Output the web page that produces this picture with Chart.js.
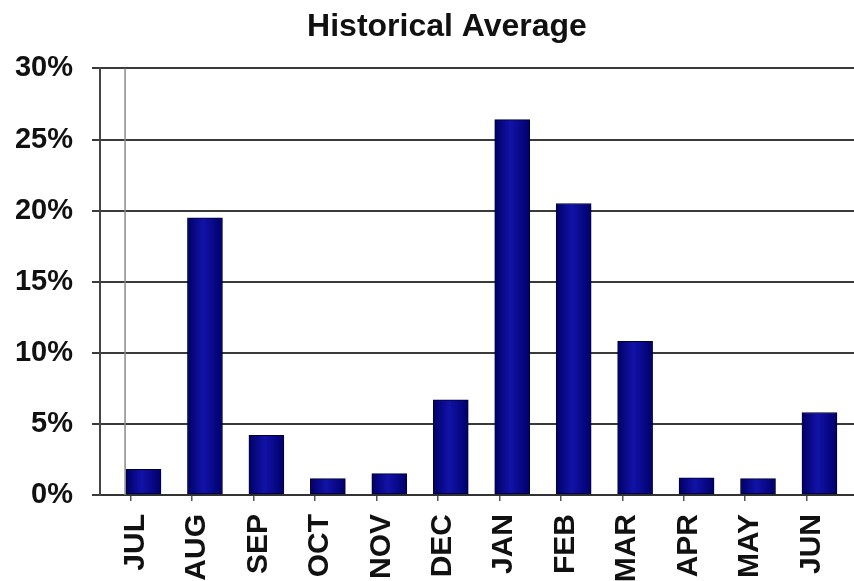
<!DOCTYPE html>
<html>
<head>
<meta charset="utf-8">
<script src="https://cdn.jsdelivr.net/npm/chart.js@4"></script>
<style>
  html, body { margin: 0; padding: 0; background: #fff; }
  #wrap { width: 854px; height: 581px; }
</style>
</head>
<body>
<div id="wrap"><canvas id="histChart" width="854" height="581"></canvas></div>
<script>
// chart data
const months = ["JUL", "AUG", "SEP", "OCT", "NOV", "DEC", "JAN", "FEB", "MAR", "APR", "MAY", "JUN"];
const averages = [1.8, 19.5, 4.2, 1.15, 1.5, 6.7, 26.4, 20.5, 10.8, 1.2, 1.15, 5.8];
const yTicks = [0, 5, 10, 15, 20, 25, 30];

// x axis is linear so the bars can sit right of the tick marks like the original
const X_MIN = -0.708;
const X_MAX = 11.562;

const points = months.map((m, i) => ({ x: i, y: averages[i] }));

function barFill(context) {
    const chart = context.chart;
    const xs = chart.scales && chart.scales.x;
    if (!xs || xs.width == null || context.dataIndex == null) return "#000088";
    const cx = xs.getPixelForValue(context.dataIndex);
    if (!isFinite(cx)) return "#000088";
    const g = chart.ctx.createLinearGradient(cx - 17.5, 0, cx + 17.5, 0);
    g.addColorStop(0, "#000066");
    g.addColorStop(0.45, "#1212a8");
    g.addColorStop(1, "#00006a");
    return g;
}

// thin gray line just inside the y axis, title nudged right like the original
const extras = {
    id: "extras",
    afterLayout(chart) {
        if (chart.titleBlock) chart.titleBlock.left = 40;
    },
    beforeDatasetsDraw(chart) {
        const { ctx, chartArea, scales } = chart;
        const x = scales.x.getPixelForValue(-0.3);
        ctx.save();
        ctx.strokeStyle = "#8a8a8a";
        ctx.lineWidth = 1.5;
        ctx.beginPath();
        ctx.moveTo(x, chartArea.top);
        ctx.lineTo(x, chartArea.bottom);
        ctx.stroke();
        ctx.restore();
    }
};

new Chart(document.getElementById("histChart"), {
    type: "bar",
    data: {
        datasets: [{
            data: points,
            backgroundColor: barFill,
            borderColor: "#00002e",
            borderWidth: 1,
            borderSkipped: false,
            barThickness: 35
        }]
    },
    options: {
        responsive: false,
        animation: false,
        layout: { padding: 0 },
        plugins: {
            legend: { display: false },
            tooltip: { enabled: false },
            title: {
                display: true,
                text: "Historical Average",
                color: "#111",
                font: { family: "Liberation Sans, Arial, sans-serif", size: 32, weight: "bold" },
                padding: { top: 8, bottom: 22 },
                lineHeight: 1.2
            }
        },
        scales: {
            x: {
                type: "linear",
                offset: false,
                min: X_MIN,
                max: X_MAX,
                afterBuildTicks: (scale) => {
                    scale.ticks = months.concat([""]).map((m, k) => ({ value: X_MIN + k }));
                },
                afterFit: (scale) => {
                    scale.height = 86;
                    scale.paddingLeft = 0;
                    scale.paddingRight = 0;
                },
                grid: { drawOnChartArea: false, color: "#555", lineWidth: 1.5, tickLength: 6 },
                border: { color: "#333", width: 2 },
                ticks: {
                    autoSkip: false,
                    minRotation: 90,
                    maxRotation: 90,
                    labelOffset: -26,
                    padding: 13,
                    color: "#111",
                    font: { family: "Liberation Sans, Arial, sans-serif", size: 30, weight: "bold" },
                    callback: (value, index) => (index > 0 ? months[index - 1] : "")
                }
            },
            y: {
                min: 0,
                max: 30,
                afterBuildTicks: (scale) => {
                    scale.ticks = yTicks.map(v => ({ value: v }));
                },
                afterFit: (scale) => { scale.width = 100; },
                grid: { color: "#3a3a3a", lineWidth: 2, tickLength: 8 },
                border: { color: "#444", width: 2 },
                ticks: {
                    padding: 19,
                    color: "#111",
                    font: { family: "Liberation Sans, Arial, sans-serif", size: 29, weight: "bold" },
                    callback: (v) => v + "%"
                }
            }
        }
    },
    plugins: [extras]
});
</script>
</body>
</html>
